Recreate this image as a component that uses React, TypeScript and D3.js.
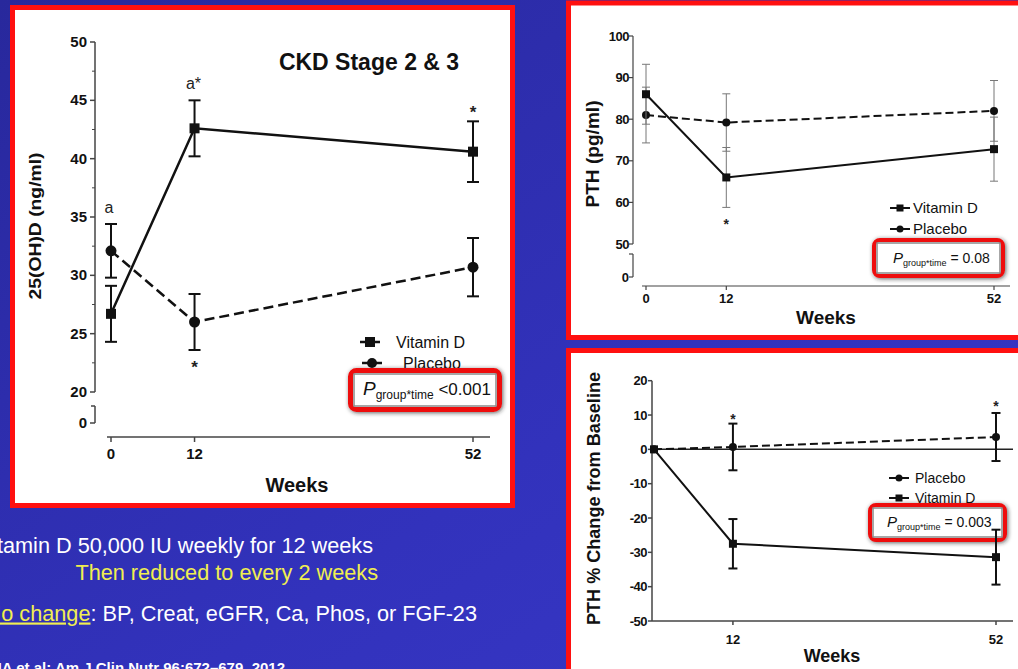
import React from 'react';
import * as d3 from 'd3';

// ---------- data ----------
const weeks = [0, 12, 52];

const ohdVitD = [26.7, 42.6, 40.6];
const ohdVitDErr = [2.4, 2.4, 2.6];
const ohdPlacebo = [32.1, 26.0, 30.7];
const ohdPlaceboErr = [2.3, 2.4, 2.5];
const ohdTicks = [20, 25, 30, 35, 40, 45, 50];
const ohdMinor = [22.5, 27.5, 32.5, 37.5, 42.5, 47.5];

const pthVitD = [86.0, 66.0, 72.8];
const pthVitDErr = [7.2, 7.2, 7.7];
const pthPlacebo = [81.0, 79.2, 82.0];
const pthPlaceboErr = [6.7, 6.9, 7.3];
const pthTicks = [50, 60, 70, 80, 90, 100];

const pctPlacebo = [0, 0.7, 3.6];
const pctPlaceboErr = [0, 6.8, 7.0];
const pctVitD = [0, -27.5, -31.4];
const pctVitDErr = [0, 7.2, 8.0];
const pctTicks = [-50, -40, -30, -20, -10, 0, 10, 20];
const pctWeekTicks = [12, 52];

const FONT = "'Liberation Sans', Arial, Helvetica, sans-serif";

type SeriesProps = {
  x: d3.ScaleLinear<number, number>;
  y: d3.ScaleLinear<number, number>;
  vals: number[];
  errs: number[];
  dash?: string;
  marker: 'square' | 'circle';
  size: number;
  lw: number;
  errColor: string;
  errW: number;
  cap: number;
};

function Series({ x, y, vals, errs, dash, marker, size, lw, errColor, errW, cap }: SeriesProps) {
  const line = d3
    .line<number>()
    .x((_, i) => x(weeks[i]))
    .y((v) => y(v));
  return (
    <g>
      {vals.map((v, i) =>
        errs[i] > 0 ? (
          <g key={'e' + i} stroke={errColor} strokeWidth={errW}>
            <line x1={x(weeks[i])} x2={x(weeks[i])} y1={y(v - errs[i])} y2={y(v + errs[i])} />
            <line x1={x(weeks[i]) - cap / 2} x2={x(weeks[i]) + cap / 2} y1={y(v - errs[i])} y2={y(v - errs[i])} />
            <line x1={x(weeks[i]) - cap / 2} x2={x(weeks[i]) + cap / 2} y1={y(v + errs[i])} y2={y(v + errs[i])} />
          </g>
        ) : null
      )}
      <path d={line(vals) || ''} fill="none" stroke="#111" strokeWidth={lw} strokeDasharray={dash} />
      {vals.map((v, i) =>
        marker === 'square' ? (
          <rect key={'m' + i} x={x(weeks[i]) - size / 2} y={y(v) - size / 2} width={size} height={size} fill="#111" />
        ) : (
          <circle key={'m' + i} cx={x(weeks[i])} cy={y(v)} r={size / 2} fill="#111" />
        )
      )}
    </g>
  );
}

function PBox({ x0, y0, x1, y1, sw, tx, ty, pSize, subSize, restSize, rest }: any) {
  return (
    <g>
      <rect x={x0} y={y0} width={x1 - x0} height={y1 - y0} rx={6} fill="#fff" stroke="#ee1111" strokeWidth={sw} filter="url(#shadow)" />
      <rect x={x0 + sw / 2 + 1} y={y0 + sw / 2 + 1} width={x1 - x0 - sw - 2} height={y1 - y0 - sw - 2} fill="#fff" stroke="#8a8a8a" strokeWidth={1.5} />
      <text x={tx} y={ty} fontFamily={FONT} fill="#111">
        <tspan fontStyle="italic" fontSize={pSize}>P</tspan>
        <tspan fontSize={subSize} dy={subSize * 0.35}>group*time</tspan>
        <tspan fontSize={restSize} dy={-subSize * 0.35}>{' ' + rest}</tspan>
      </text>
    </g>
  );
}

function LegendItem({ x, y, marker, size, lw, label, fs, tx, dash }: any) {
  return (
    <g>
      <line x1={x - 10} x2={x + 10} y1={y} y2={y} stroke="#111" strokeWidth={lw} strokeDasharray={dash} />
      {marker === 'square' ? (
        <rect x={x - size / 2} y={y - size / 2} width={size} height={size} fill="#111" />
      ) : (
        <circle cx={x} cy={y} r={size / 2} fill="#111" />
      )}
      <text x={tx} y={y + fs * 0.36} fontFamily={FONT} fontSize={fs} fill="#111">{label}</text>
    </g>
  );
}

export default function App() {
  // Panel 1
  const x1 = d3.scaleLinear().domain([0, 52]).range([111, 473]);
  const y1 = d3.scaleLinear().domain([20, 50]).range([392, 42]);
  const ax1 = 95;
  // Panel 2
  const x2 = d3.scaleLinear().domain([0, 52]).range([646, 994]);
  const y2 = d3.scaleLinear().domain([50, 100]).range([244, 36]);
  const ax2 = 633;
  // Panel 3
  const x3 = d3.scaleLinear().domain([0, 52]).range([654, 996]);
  const y3 = d3.scaleLinear().domain([-50, 20]).range([621, 380.7]);
  const ax3 = 652;

  const axisColor = '#444';

  return (
    <svg width={1018} height={669} style={{ position: 'absolute', left: 0, top: 0 }} fontFamily={FONT}>
      <defs>
        <linearGradient id="bg" x1="0" y1="0" x2="1" y2="1">
          <stop offset="0" stopColor="#28289c" />
          <stop offset="0.6" stopColor="#3232bc" />
          <stop offset="1" stopColor="#3838c8" />
        </linearGradient>
        <filter id="shadow" x="-20%" y="-30%" width="140%" height="160%">
          <feDropShadow dx="1" dy="1" stdDeviation="2" floodColor="#222" floodOpacity="0.7" />
        </filter>
      </defs>
      <rect x={0} y={0} width={1018} height={669} fill="url(#bg)" />

      {/* ================= Panel 1 ================= */}
      <rect x={12.5} y={7.5} width={500} height={498} fill="#fff" stroke="#ff1010" strokeWidth={5} />
      <text x={369} y={69.5} textAnchor="middle" fontSize={23} fontWeight="bold" fill="#111">CKD Stage 2 &amp; 3</text>
      {/* y axis */}
      <line x1={ax1} x2={ax1} y1={y1(50)} y2={y1(20)} stroke={axisColor} strokeWidth={1.5} />
      {ohdTicks.map((t) => (
        <g key={t}>
          <line x1={ax1 - 5} x2={ax1} y1={y1(t)} y2={y1(t)} stroke={axisColor} strokeWidth={1.5} />
          <text x={87} y={y1(t) + 5} textAnchor="end" fontSize={15} fontWeight="bold" fill="#111">{t}</text>
        </g>
      ))}
      {ohdMinor.map((t) => (
        <line key={t} x1={ax1 - 3} x2={ax1} y1={y1(t)} y2={y1(t)} stroke={axisColor} strokeWidth={1} />
      ))}
      <line x1={ax1} x2={ax1} y1={406} y2={423} stroke={axisColor} strokeWidth={1.5} />
      <line x1={ax1 - 4} x2={ax1} y1={406} y2={406} stroke={axisColor} strokeWidth={1.5} />
      <line x1={ax1 - 5} x2={ax1} y1={423} y2={423} stroke={axisColor} strokeWidth={1.5} />
      <text x={87} y={428} textAnchor="end" fontSize={15} fontWeight="bold" fill="#111">0</text>
      {/* x axis */}
      <line x1={107} x2={490} y1={437} y2={437} stroke={axisColor} strokeWidth={1.5} />
      {weeks.map((w) => (
        <g key={w}>
          <line x1={x1(w)} x2={x1(w)} y1={437} y2={442} stroke={axisColor} strokeWidth={1.5} />
          <text x={x1(w)} y={458.5} textAnchor="middle" fontSize={15} fontWeight="bold" fill="#111">{w}</text>
        </g>
      ))}
      <text x={297} y={492} textAnchor="middle" fontSize={20} fontWeight="bold" fill="#111">Weeks</text>
      <text transform="translate(41,226) rotate(-90)" textAnchor="middle" fontSize={17} fontWeight="bold" fill="#111" textLength={147} lengthAdjust="spacingAndGlyphs">25(OH)D (ng/ml)</text>
      {/* series */}
      <Series x={x1} y={y1} vals={ohdPlacebo} errs={ohdPlaceboErr} dash="10 5" marker="circle" size={11} lw={2.5} errColor="#111" errW={2} cap={12} />
      <Series x={x1} y={y1} vals={ohdVitD} errs={ohdVitDErr} marker="square" size={10} lw={2.5} errColor="#111" errW={2} cap={12} />
      {/* annotations */}
      <text x={x1(0) - 2} y={213} textAnchor="middle" fontSize={16} fill="#222">a</text>
      <text x={x1(12) - 1} y={89} textAnchor="middle" fontSize={16} fill="#222">a*</text>
      <text x={x1(52)} y={118} textAnchor="middle" fontSize={17} fontWeight="bold" fill="#222">*</text>
      <text x={x1(12)} y={373} textAnchor="middle" fontSize={17} fontWeight="bold" fill="#222">*</text>
      {/* legend */}
      <LegendItem x={370} y={342} marker="square" size={10} lw={2.5} label="Vitamin D" fs={16} tx={396} />
      <LegendItem x={372} y={363} marker="circle" size={10} lw={2.5} label="Placebo" fs={16} tx={403} />
      <PBox x0={350.5} y0={370.5} x1={499.5} y1={409.5} sw={5} tx={363} ty={395} pSize={19} subSize={12} restSize={17} rest="<0.001" />

      {/* ================= Panel 2 ================= */}
      <rect x={568.5} y={3} width={460} height={334.5} fill="#fff" stroke="#ff1010" strokeWidth={5} />
      <line x1={ax2} x2={ax2} y1={y2(100)} y2={y2(50)} stroke={axisColor} strokeWidth={1.2} />
      {pthTicks.map((t) => (
        <g key={t}>
          <line x1={ax2 - 4} x2={ax2} y1={y2(t)} y2={y2(t)} stroke={axisColor} strokeWidth={1.2} />
          <text x={629} y={y2(t) + 4.5} textAnchor="end" fontSize={13} fontWeight="bold" fill="#111" letterSpacing={-0.5}>{t}</text>
        </g>
      ))}
      <line x1={ax2} x2={ax2} y1={254} y2={277} stroke={axisColor} strokeWidth={1.2} />
      <line x1={ax2 - 4} x2={ax2} y1={254} y2={254} stroke={axisColor} strokeWidth={1.2} />
      <line x1={ax2 - 4} x2={ax2} y1={277} y2={277} stroke={axisColor} strokeWidth={1.2} />
      <text x={629} y={281.5} textAnchor="end" fontSize={13} fontWeight="bold" fill="#111">0</text>
      <line x1={642} x2={1010} y1={286} y2={286} stroke={axisColor} strokeWidth={1.2} />
      {weeks.map((w) => (
        <g key={w}>
          <line x1={x2(w)} x2={x2(w)} y1={286} y2={290} stroke={axisColor} strokeWidth={1.2} />
          <text x={x2(w)} y={303} textAnchor="middle" fontSize={13} fontWeight="bold" fill="#111">{w}</text>
        </g>
      ))}
      <text x={826} y={324} textAnchor="middle" fontSize={19} fontWeight="bold" fill="#111">Weeks</text>
      <text transform="translate(599,154) rotate(-90)" textAnchor="middle" fontSize={18} fontWeight="bold" fill="#111" textLength={107} lengthAdjust="spacingAndGlyphs">PTH (pg/ml)</text>
      <Series x={x2} y={y2} vals={pthPlacebo} errs={pthPlaceboErr} dash="8 4" marker="circle" size={8} lw={2} errColor="#777" errW={1} cap={8} />
      <Series x={x2} y={y2} vals={pthVitD} errs={pthVitDErr} marker="square" size={8} lw={2} errColor="#777" errW={1} cap={8} />
      <text x={x2(12)} y={229} textAnchor="middle" fontSize={14} fontWeight="bold" fill="#222">*</text>
      <LegendItem x={900} y={208} marker="square" size={7} lw={2} label="Vitamin D" fs={15} tx={913} />
      <LegendItem x={900} y={229} marker="circle" size={7} lw={2} label="Placebo" fs={15} tx={913} />
      <PBox x0={874} y0={240} x1={1003} y1={276} sw={4} tx={893} ty={263} pSize={15} subSize={9} restSize={14} rest="= 0.08" />

      {/* ================= Panel 3 ================= */}
      <rect x={568.5} y={350.5} width={460} height={340} fill="#fff" stroke="#ff1010" strokeWidth={5} />
      <line x1={ax3} x2={ax3} y1={y3(20)} y2={y3(-50)} stroke={axisColor} strokeWidth={1.5} />
      {pctTicks.map((t) => (
        <g key={t}>
          <line x1={ax3 - 4} x2={ax3} y1={y3(t)} y2={y3(t)} stroke={axisColor} strokeWidth={1.5} />
          <text x={647} y={y3(t) + 4.5} textAnchor="end" fontSize={13} fontWeight="bold" fill="#111" letterSpacing={-0.5}>{t}</text>
        </g>
      ))}
      <line x1={ax3} x2={1013} y1={y3(-50)} y2={y3(-50)} stroke={axisColor} strokeWidth={1.5} />
      <line x1={ax3} x2={1013} y1={y3(0)} y2={y3(0)} stroke="#222" strokeWidth={1.5} />
      {pctWeekTicks.map((w) => (
        <g key={w}>
          <line x1={x3(w)} x2={x3(w)} y1={621} y2={625} stroke={axisColor} strokeWidth={1.5} />
          <text x={x3(w)} y={644} textAnchor="middle" fontSize={13} fontWeight="bold" fill="#111">{w}</text>
        </g>
      ))}
      <text x={832} y={661.5} textAnchor="middle" fontSize={18} fontWeight="bold" fill="#111">Weeks</text>
      <text transform="translate(600,498.5) rotate(-90)" textAnchor="middle" fontSize={18} fontWeight="bold" fill="#111" textLength={253} lengthAdjust="spacingAndGlyphs">PTH % Change from Baseline</text>
      <LegendItem x={899} y={478} marker="circle" size={7} lw={2} label="Placebo" fs={14} tx={915} />
      <LegendItem x={899} y={498} marker="square" size={7} lw={2} label="Vitamin D" fs={14} tx={915} />
      <PBox x0={870} y0={505} x1={1005} y1={540} sw={4} tx={887} ty={527} pSize={15} subSize={9} restSize={14} rest="= 0.003" />
      <Series x={x3} y={y3} vals={pctPlacebo} errs={pctPlaceboErr} dash="8 4" marker="circle" size={8} lw={2} errColor="#111" errW={2} cap={9} />
      <Series x={x3} y={y3} vals={pctVitD} errs={pctVitDErr} marker="square" size={8} lw={2} errColor="#111" errW={2} cap={9} />
      <text x={x3(12)} y={424} textAnchor="middle" fontSize={14} fontWeight="bold" fill="#222">*</text>
      <text x={x3(52)} y={411} textAnchor="middle" fontSize={14} fontWeight="bold" fill="#222">*</text>

      {/* ================= Slide text ================= */}
      <text x={373} y={553} textAnchor="end" fontSize={21.7} fill="#fff">Vitamin D 50,000 IU weekly for 12 weeks</text>
      <text x={378} y={580} textAnchor="end" fontSize={21.7} fill="#f0ee50">Then reduced to every 2 weeks</text>
      <text x={477} y={620.5} textAnchor="end" fontSize={21.7} fill="#fff">
        <tspan fill="#f0ee50" style={{ textDecoration: 'underline' }}>No change</tspan>
        <tspan>:  BP, Creat, eGFR, Ca, Phos, or FGF-23</tspan>
      </text>
      <text x={285} y={673} textAnchor="end" fontSize={15} fontWeight="bold" fill="#fff">Alvarez JA et al: Am J Clin Nutr 96:672–679, 2012</text>
    </svg>
  );
}
